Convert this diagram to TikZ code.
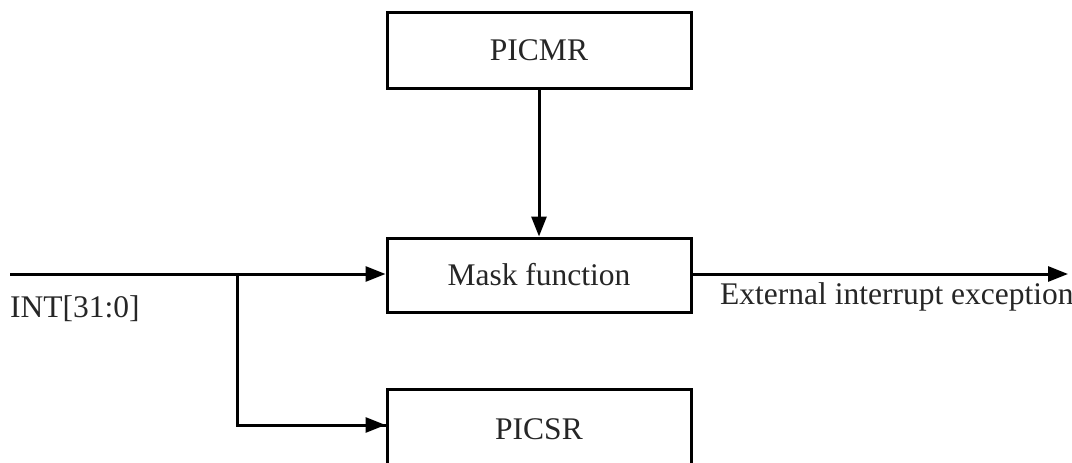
\documentclass[tikz,border=0pt]{standalone}
\usepackage{fontspec}
\setmainfont{Liberation Serif}
\usetikzlibrary{arrows.meta}
\begin{document}
\begin{tikzpicture}[x=1pt,y=-1pt,
  blk/.style={draw,line width=3pt,minimum width=304pt,minimum height=74pt,inner sep=0pt,font=\fontsize{31.5}{36}\selectfont,text=black!85},
  lbl/.style={inner sep=0pt,font=\fontsize{31.5}{36}\selectfont,text=black!85},
  conn/.style={line width=3pt,-{Triangle[length=20pt,width=15pt]}}]
\useasboundingbox (0,0) rectangle (1072,463);
\clip (0,0) rectangle (1072,463);
\node[blk,minimum height=76pt] (picmr) at (539,50) {PICMR};
\node[blk] (mask) at (539,275) {Mask function};
\node[blk,minimum height=84pt] (picsr) at (539,431) {\raisebox{3pt}{PICSR}};
\coordinate (in) at (10,274);
\coordinate (br) at (237,274);
\coordinate (out) at (1068,274);
\draw[conn] (in) -- (mask.west |- in);
\draw[line width=3pt] (br) |- (picsr.west |- 0,425);
\draw[conn] (br |- 0,425) -- (picsr.west |- 0,425);
\draw[conn] (picmr.south) -- (mask.north);
\draw[conn] (mask.east |- in) -- (out);
\node[lbl,anchor=base west] (intl) at (10,317) {INT[31:0]};
\node[lbl,anchor=base west] (extl) at (720,304) {External interrupt exception};
\end{tikzpicture}
\end{document}
